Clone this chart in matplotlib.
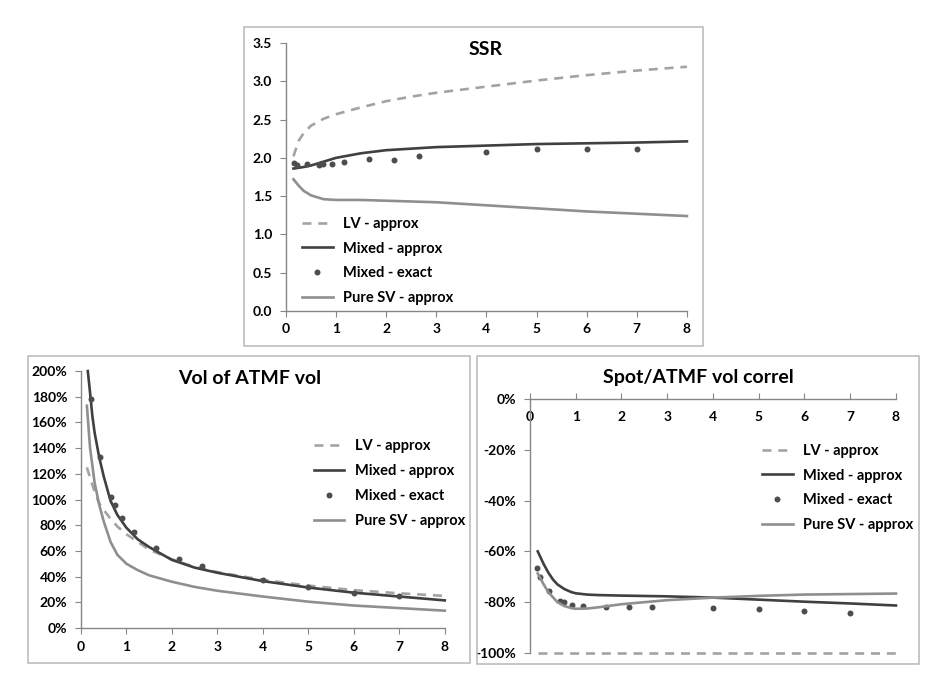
import matplotlib

matplotlib.use("Agg")
import matplotlib.pyplot as plt
from matplotlib.patches import Rectangle
from matplotlib.ticker import FuncFormatter

plt.rcParams["font.family"] = ["Lato", "DejaVu Sans"]
plt.rcParams["font.weight"] = "bold"

LEGEND_LABELS = ["LV - approx", "Mixed - approx", "Mixed - exact", "Pure SV - approx"]

# maturities of the "exact" points
exact_t = [0.16, 0.23, 0.41, 0.66, 0.74, 0.91, 1.16, 1.66, 2.16, 2.66, 4, 5, 6, 7]

# SSR panel
ssr_t = [0.15, 0.25, 0.35, 0.5, 0.75, 1, 1.5, 2, 2.5, 3, 4, 5, 6, 7, 8]
ssr_lv = [2.02, 2.22, 2.32, 2.42, 2.51, 2.57, 2.66, 2.74, 2.80, 2.85, 2.93, 3.01, 3.08, 3.14, 3.19]
ssr_mixed = [1.86, 1.87, 1.88, 1.90, 1.95, 2.00, 2.06, 2.10, 2.12, 2.14, 2.16, 2.18, 2.19, 2.20, 2.215]
ssr_puresv = [1.72, 1.64, 1.57, 1.51, 1.46, 1.45, 1.45, 1.44, 1.43, 1.42, 1.38, 1.34, 1.30, 1.27, 1.24]
ssr_exact = [1.93, 1.91, 1.92, 1.91, 1.92, 1.92, 1.95, 1.98, 1.97, 2.02, 2.07, 2.12, 2.11, 2.12]

# Vol of ATMF vol panel (%)
vol_t = [0.13, 0.2, 0.3, 0.4, 0.5, 0.65, 0.8, 1, 1.25, 1.5, 2, 2.5, 3, 4, 5, 6, 7, 8]
vol_lv = [125, 117, 106, 97, 92, 85, 79, 73, 67, 61, 53.5, 47.5, 43.5, 37.5, 33, 29.5, 27, 25]
vol_puresv = [173, 140, 113, 96, 83, 67, 57, 50, 45, 41, 36, 32, 29, 24.5, 20.5, 17.5, 15.5, 13.5]
vol_mixed_t = [0.15, 0.2, 0.25, 0.3, 0.4, 0.5, 0.65, 0.8, 1, 1.25, 1.5, 2, 2.5, 3, 4, 5, 6, 7, 8]
vol_mixed = [200, 183, 165, 152, 133, 118, 99, 88, 78, 69, 63, 53, 47, 43, 36.5, 31.5, 27.5, 24.5, 21.5]
vol_exact_t = exact_t[1:]
vol_exact = [178, 133, 102, 96, 86, 75, 62, 54, 48, 37, 32, 27.5, 25]

# Spot/ATMF vol correl panel (%)
corr_t = [0.17, 0.3, 0.4, 0.5, 0.6, 0.75, 0.9, 1, 1.25, 1.5, 2, 3, 4, 5, 6, 7, 8]
corr_mixed = [-60, -65, -68.3, -71, -73, -74.8, -76, -76.5, -77, -77.2, -77.4, -77.7, -78.2, -79, -79.8, -80.5, -81.3]
corr_puresv = [-68.7, -73, -76, -78, -80, -81.5, -82.3, -82.6, -82.5, -82, -80.8, -79.2, -78.2, -77.5, -77, -76.8, -76.6]
corr_lv_t = [0.17, 8]
corr_lv = [-100, -100]
corr_exact = [-66.6, -70, -75.4, -79.4, -79.9, -81, -81.6, -81.9, -82, -81.9, -82.4, -82.8, -83.4, -84.2]

LV_COLOR = "#a3a3a3"
MIXED_COLOR = "#404040"
EXACT_COLOR = "#4d4d4d"
SV_COLOR = "#8f8f8f"
AXIS_COLOR = "#868686"


def draw_series(ax, lv, mixed, exact, puresv):
    """Plot the four series of one panel; each arg is an (x, y) pair."""
    h_lv, = ax.plot(*lv, color=LV_COLOR, lw=1.9, dashes=(3.4, 2.6), clip_on=False)
    h_mixed, = ax.plot(*mixed, color=MIXED_COLOR, lw=1.9, clip_on=False)
    h_exact, = ax.plot(*exact, "o", color=EXACT_COLOR, ms=4.3, mec="none")
    h_sv, = ax.plot(*puresv, color=SV_COLOR, lw=1.9, clip_on=False)
    return [h_lv, h_mixed, h_exact, h_sv]


def style_axes(ax):
    ax.spines["top"].set_visible(False)
    ax.spines["right"].set_visible(False)
    for s in ("left", "bottom"):
        ax.spines[s].set_color(AXIS_COLOR)
        ax.spines[s].set_linewidth(1.0)
    ax.tick_params(colors=AXIS_COLOR, labelcolor="black", labelsize=10, length=4)
    ax.tick_params(axis="y", pad=6)
    ax.tick_params(axis="x", pad=5)
    ax.set_xlim(0, 8)
    ax.set_xticks(range(0, 9))
    ax.patch.set_alpha(0)


def add_legend(fig, handles, x, y):
    fig.legend(handles, LEGEND_LABELS, loc="center left", bbox_to_anchor=(x, y),
               bbox_transform=fig.transFigure, frameon=False, fontsize=10.5,
               handlelength=2.1, handletextpad=0.7, labelspacing=0.75,
               borderpad=0, borderaxespad=0)


fig = plt.figure(figsize=(9.45, 6.75), dpi=100)

# chart frames
for box in [(0.258, 0.4874, 0.486, 0.4726), (0.0296, 0.0178, 0.4677, 0.4548),
            (0.5048, 0.0163, 0.4677, 0.4563)]:
    fig.patches.append(Rectangle(box[:2], box[2], box[3], transform=fig.transFigure,
                                 fill=False, edgecolor="#bdbdbd", lw=1.2))

# SSR
ax1 = fig.add_axes([0.3026, 0.5393, 0.4243, 0.397])
h = draw_series(ax1, (ssr_t, ssr_lv), (ssr_t, ssr_mixed), (exact_t, ssr_exact),
                (ssr_t, ssr_puresv))
style_axes(ax1)
ax1.set_ylim(0, 3.5)
ax1.set_yticks([0, 0.5, 1, 1.5, 2, 2.5, 3, 3.5])
ax1.yaxis.set_major_formatter(FuncFormatter(lambda v, p: f"{v:.1f}"))
fig.text(0.514, 0.927, "SSR", fontsize=14, fontweight="bold", ha="center", va="center")
add_legend(fig, h, 0.3196, 0.6133)

# Vol of ATMF vol
ax2 = fig.add_axes([0.0857, 0.0696, 0.385, 0.3807])
h = draw_series(ax2, (vol_t, vol_lv), (vol_mixed_t, vol_mixed),
                (vol_exact_t, vol_exact), (vol_t, vol_puresv))
style_axes(ax2)
ax2.set_ylim(0, 200)
ax2.set_yticks(range(0, 201, 20))
ax2.yaxis.set_major_formatter(FuncFormatter(lambda v, p: f"{v:.0f}%"))
fig.text(0.2646, 0.44, "Vol of ATMF vol", fontsize=14, fontweight="bold",
         ha="center", va="center")
add_legend(fig, h, 0.332, 0.2837)

# Spot/ATMF vol correl
ax3 = fig.add_axes([0.5608, 0.0326, 0.3873, 0.3763])
h = draw_series(ax3, (corr_lv_t, corr_lv), (corr_t, corr_mixed), (exact_t, corr_exact),
                (corr_t, corr_puresv))
style_axes(ax3)
ax3.set_ylim(-100, 0)
ax3.set_yticks(range(-100, 1, 20))
ax3.yaxis.set_major_formatter(FuncFormatter(lambda v, p: f"{v:.0f}%"))
ax3.spines["bottom"].set_position(("data", 0))
ax3.tick_params(axis="x", direction="in", pad=9)
fig.text(0.7386, 0.44, "Spot/ATMF vol correl", fontsize=14, fontweight="bold",
         ha="center", va="center")
add_legend(fig, h, 0.8063, 0.277)

fig.savefig("out.png", dpi=100)
